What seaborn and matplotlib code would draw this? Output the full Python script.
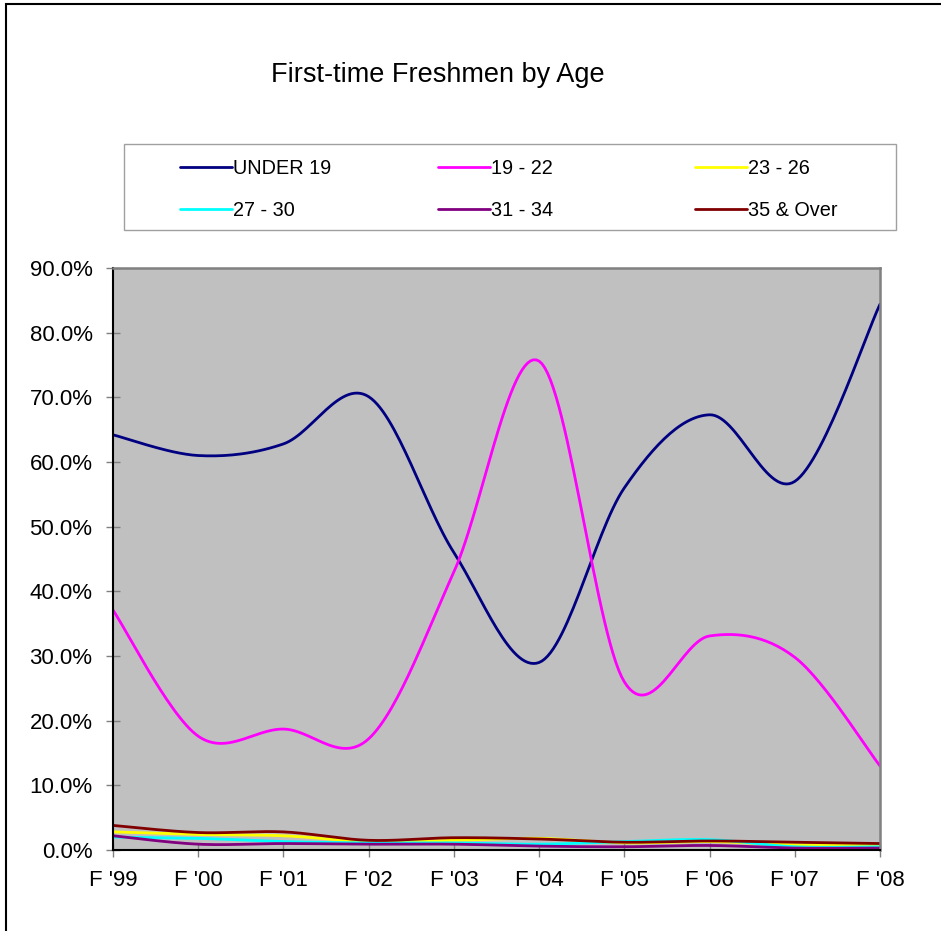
import numpy as np
import pandas as pd
import matplotlib
matplotlib.use("Agg")
import matplotlib.pyplot as plt
import seaborn as sns
from matplotlib.patches import Rectangle
from matplotlib.ticker import FuncFormatter

# data (percent of first-time freshmen)
terms = ["F '99", "F '00", "F '01", "F '02", "F '03", "F '04", "F '05", "F '06", "F '07", "F '08"]
age_groups = ["UNDER 19", "19 - 22", "23 - 26", "27 - 30", "31 - 34", "35 & Over"]
under_19 = [64.2, 61.0, 62.8, 70.1, 46.0, 29.0, 56.0, 67.3, 57.0, 84.4]
age_19_22 = [37.1, 17.6, 18.7, 17.2, 43.0, 75.6, 26.0, 33.1, 29.8, 13.0]
age_23_26 = [2.8, 2.4, 2.2, 1.3, 1.5, 1.8, 1.1, 1.3, 0.8, 0.7]
age_27_30 = [2.0, 1.8, 1.3, 1.1, 1.1, 0.9, 1.3, 1.6, 0.5, 0.5]
age_31_34 = [2.2, 0.9, 1.0, 0.9, 0.9, 0.6, 0.5, 0.7, 0.3, 0.3]
age_35_over = [3.8, 2.7, 2.8, 1.5, 1.9, 1.7, 1.2, 1.4, 1.2, 1.0]
colors = ["#000080", "#FF00FF", "#FFFF00", "#00FFFF", "#800080", "#800000"]

series = [under_19, age_19_22, age_23_26, age_27_30, age_31_34, age_35_over]


def excel_smooth(y, n=30):
    """Bezier smoothing like Excel's 'smoothed line' (Catmull-Rom control points)."""
    x = np.arange(len(y), dtype=float)
    y = np.asarray(y, dtype=float)
    px = np.r_[x[0], x, x[-1]]
    py = np.r_[y[0], y, y[-1]]
    t = np.linspace(0, 1, n, endpoint=False)[:, None]
    out_x, out_y = [], []
    for i in range(len(y) - 1):
        for arr, out in ((px, out_x), (py, out_y)):
            p0, p1, p2, p3 = arr[i], arr[i + 1], arr[i + 2], arr[i + 3]
            c1 = p1 + (p2 - p0) / 6
            c2 = p2 - (p3 - p1) / 6
            b = ((1 - t) ** 3 * p1 + 3 * (1 - t) ** 2 * t * c1
                 + 3 * (1 - t) * t ** 2 * c2 + t ** 3 * p2)
            out.extend(b.ravel())
    out_x.append(x[-1])
    out_y.append(y[-1])
    return np.array(out_x), np.array(out_y)


frames = []
for name, vals in zip(age_groups, series):
    sx, sy = excel_smooth(vals)
    frames.append(pd.DataFrame({"x": sx, "pct": sy, "age": name}))
df = pd.concat(frames, ignore_index=True)

sns.set_style("white")
plt.rcParams["font.family"] = ["Liberation Sans", "DejaVu Sans"]
plt.rcParams["text.color"] = "black"

W, H = 941, 931
fig = plt.figure(figsize=(W / 100, H / 100), dpi=100)
ax = fig.add_axes([113 / W, 1 - 850 / H, 767 / W, 582 / H])
ax.set_facecolor("#C0C0C0")

sns.lineplot(data=df, x="x", y="pct", hue="age", hue_order=age_groups,
             palette=colors, estimator=None, sort=False, units="age",
             linewidth=2, legend=False, ax=ax)

ax.set_xlim(0, len(terms) - 1)
ax.set_ylim(0, 90)
ax.set_xticks(range(len(terms)))
ax.set_xticklabels(terms)
ax.set_yticks(np.arange(0, 91, 10))
ax.yaxis.set_major_formatter(FuncFormatter(lambda v, p: f"{v:.1f}%"))
ax.set_xlabel("")
ax.set_ylabel("")
ax.tick_params(axis="both", direction="inout", length=9.5, width=1,
               color="#808080", labelsize=16, pad=10, labelcolor="black")
ax.tick_params(axis="both", left=True, bottom=True)

for side in ("left", "bottom"):
    ax.spines[side].set_color("black")
    ax.spines[side].set_linewidth(1.5)
for side in ("top", "right"):
    ax.spines[side].set_color("#808080")
    ax.spines[side].set_linewidth(1.8)

# title
fig.text(438 / W, 1 - 75 / H, "First-time Freshmen by Age", ha="center",
         va="center", fontsize=19.5, color="black")

# legend box and entries (three columns like Excel's layout)
fig.add_artist(Rectangle((124 / W, 1 - 230 / H), 772 / W, 86 / H,
                         transform=fig.transFigure, facecolor="white",
                         edgecolor="#A0A0A0", linewidth=1, zorder=0))
lines = ax.get_lines()
col_x = [180, 438, 695]
for c in range(3):
    idx = [c, c + 3]
    leg = fig.legend([lines[i] for i in idx], [age_groups[i] for i in idx],
                     loc="center left", bbox_to_anchor=(col_x[c] / W, 1 - 189.5 / H),
                     frameon=False, fontsize=14.3, handlelength=2.6,
                     handletextpad=0.05, borderpad=0, borderaxespad=0,
                     labelspacing=1.15, labelcolor="black")
    for h in leg.legend_handles:
        h.set_linewidth(2)

# outer chart border (partly cropped in the reference)
fig.add_artist(Rectangle((5.5 / W, -0.1), 1.2, 1.1 - 4.5 / H,
                         transform=fig.transFigure, facecolor="none",
                         edgecolor="black", linewidth=1.5))

fig.savefig("out.png", dpi=100)
